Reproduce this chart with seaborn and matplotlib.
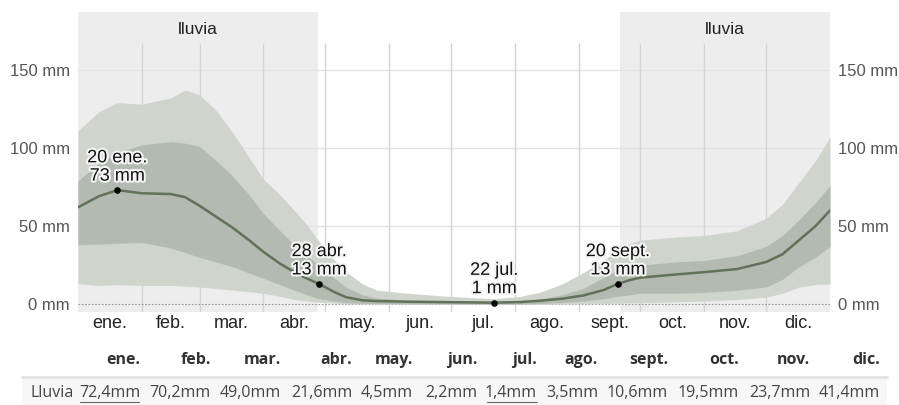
import numpy as np
import pandas as pd
import seaborn as sns
import matplotlib.pyplot as plt
import matplotlib.patheffects as pe
from matplotlib.lines import Line2D
from matplotlib.patches import Rectangle

# day of year for each reading
days = [0, 10, 19, 31, 45, 52, 59, 67, 75, 83, 90, 98, 105, 111, 117, 124, 130,
        138, 145, 160, 180, 202, 215, 225, 235, 245, 255, 262, 268, 273, 290,
        304, 320, 334, 342, 350, 358, 365]

median = [62, 69, 73, 71, 70.5, 68.5, 63, 56, 49, 41, 33.5, 26, 20.5, 16.5, 13,
          8, 4.5, 2.5, 2, 1.6, 1.3, 1, 1.4, 2.3, 3.5, 5.5, 9, 13, 15.5, 17, 19,
          20.5, 22.5, 27, 32, 41, 50, 60]
p90 = [111, 123, 129, 128, 132, 137, 134, 124, 110, 94, 80, 70, 60, 51, 40,
       29, 21, 13, 9, 7, 5, 3.5, 5, 8, 13, 20, 28, 35, 39, 41, 43,
       44, 47, 55, 64, 78, 92, 107]
p75 = [79, 90, 97, 102, 104, 103, 101, 92, 82, 70, 58, 47, 38, 31, 25,
       17, 11, 6, 4, 2.5, 2, 1.5, 2, 3.5, 6, 10, 17, 22, 24, 25, 27,
       28, 31, 37, 44, 54, 65, 76]
p25 = [38, 38.5, 39, 39.5, 36, 33, 30, 27, 24, 20, 16.5, 12.5, 9, 6, 3.5,
       2, 1, 0.6, 0.4, 0.3, 0.2, 0.1, 0.2, 0.5, 1, 2, 3.5, 5, 6, 7, 7,
       7.5, 9, 11, 16, 24, 30, 37]
p10 = [13, 12, 12.5, 12, 12, 11.5, 11, 10, 9, 8, 7, 5, 3, 2, 1.2,
       0.6, 0.3, 0.1, 0, 0, 0, 0, 0, 0, 0, 0.2, 0.4, 0.6, 0.8, 1, 1.5,
       2, 3, 4.5, 7, 11, 12.5, 13]

month_starts = [0, 31, 59, 90, 120, 151, 181, 212, 243, 273, 304, 334, 365]
month_labels = ["ene.", "feb.", "mar.", "abr.", "may.", "jun.",
                "jul.", "ago.", "sept.", "oct.", "nov.", "dic."]
monthly_rain = ["72,4mm", "70,2mm", "49,0mm", "21,6mm", "4,5mm", "2,2mm",
                "1,4mm", "3,5mm", "10,6mm", "19,5mm", "23,7mm", "41,4mm"]

rain_seasons = [(0, 116.5), (263, 365)]
markers_day = [19, 117, 202, 262]
markers_val = [73, 13, 1, 13]
markers_text = ["20 ene.\n73 mm", "28 abr.\n13 mm", "22 jul.\n1 mm", "20 sept.\n13 mm"]

df = pd.DataFrame({"day": days, "median": median})

W, H = 899, 405
sns.set_style("white")
plt.rcParams["font.family"] = ["Liberation Sans", "DejaVu Sans"]

fig = plt.figure(figsize=(W / 100, H / 100), dpi=100)


def px(x, y):
    return x / W, 1 - y / H


# axes spans x 78..830, y 12..312 (0 mm at 304)
ax = fig.add_axes([78 / W, 1 - 312 / H, (830 - 78) / W, (312 - 12) / H])
ax.set_xlim(0, 365)
ax.set_ylim(-5, 187)

for a, b in rain_seasons:
    ax.axvspan(a, b, ymin=0, ymax=1, color="#ededed", lw=0, zorder=0)
    ax.text((a + b) / 2, 176, "lluvia", ha="center", va="center",
            fontsize=12.5, color="#222222")

for v in [50, 100, 150]:
    ax.axhline(v, color="#e3e3e3", lw=1, zorder=1)
ax.vlines(month_starts[1:-1], -5, 167, color="#d4d4d4", lw=1, zorder=1)
ax.axhline(0, color="#999999", lw=0.8, ls=(0, (1.5, 1.5)), zorder=1)

ax.fill_between(days, p10, p90, color="#cfd5cd", lw=0, zorder=2)
ax.fill_between(days, p25, p75, color="#b3bab1", lw=0, zorder=3)
sns.lineplot(data=df, x="day", y="median", ax=ax, color="#607258", lw=1.8,
             zorder=4)

ax.scatter(markers_day, markers_val, s=14, color="black", zorder=6)
for d, v, t in zip(markers_day, markers_val, markers_text):
    ax.text(d, v + 3.5, t, ha="center", va="bottom", fontsize=13,
            color="#111111", linespacing=1.1, zorder=7,
            path_effects=[pe.withStroke(linewidth=3, foreground="#f4f4f4")])

mids = [(month_starts[i] + month_starts[i + 1]) / 2 for i in range(12)]
ax.set_xticks(mids, month_labels)
ax.set_yticks([0, 50, 100, 150], ["0 mm", "50 mm", "100 mm", "150 mm"])
ax.tick_params(axis="x", length=0, pad=2, labelsize=13, labelcolor="#222222")
ax.tick_params(axis="y", length=0, pad=6, labelsize=12, labelcolor="#555555",
               labelright=True)
ax.set_xlabel("")
ax.set_ylabel("")
for s in ax.spines.values():
    s.set_visible(False)

# monthly table under the chart
col_right = [140, 211, 281, 352, 413, 477, 537, 598, 668, 739, 810, 880]
tfont = ["Open Sans", "DejaVu Sans"]
fig.patches.append(Rectangle(px(22, 405), (887 - 22) / W, 28 / H,
                             transform=fig.transFigure, color="#f7f7f7",
                             lw=0, zorder=0))
fig.lines.append(Line2D([22 / W, 887 / W], [px(0, 377)[1]] * 2,
                        transform=fig.transFigure, color="#e2e2e2", lw=2))
for xr, m, r in zip(col_right, month_labels, monthly_rain):
    fig.text(*px(xr, 360), m, ha="right", va="center", fontsize=11.5,
             fontweight="bold", color="#333333", family=tfont)
    fig.text(*px(xr, 393), r, ha="right", va="center", fontsize=11.5,
             color="#444444", family=tfont)
fig.text(*px(30, 393), "Lluvia", ha="left", va="center", fontsize=11.5,
         color="#444444", family=tfont)
for x0, x1 in [(80, 139), (487, 537)]:
    fig.lines.append(Line2D([x0 / W, x1 / W], [px(0, 402)[1]] * 2,
                            transform=fig.transFigure, color="#666666", lw=0.8))

fig.savefig("out.png", dpi=100)
